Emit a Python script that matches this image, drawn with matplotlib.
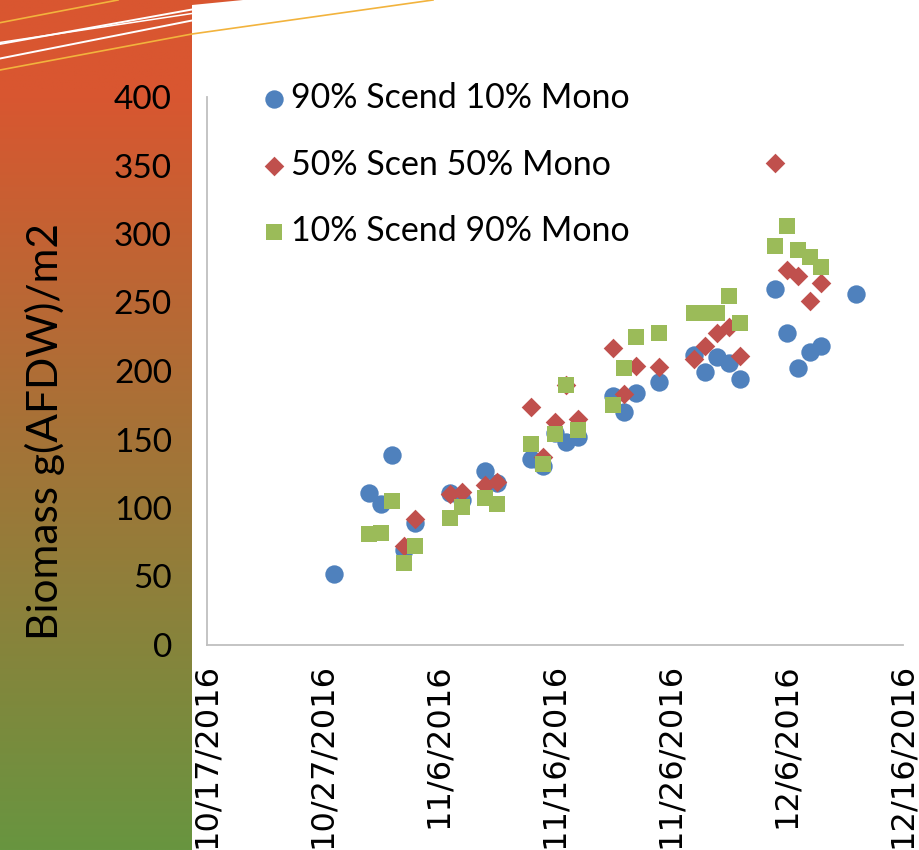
import matplotlib
matplotlib.use("Agg")
import matplotlib.pyplot as plt
import numpy as np
import pandas as pd

# ── Data ─────────────────────────────────────────────────────────────
blue_dates = ["10/28/2016", "10/31/2016", "11/1/2016", "11/2/2016", "11/3/2016",
              "11/4/2016", "11/7/2016", "11/8/2016", "11/10/2016", "11/11/2016",
              "11/14/2016", "11/15/2016", "11/16/2016", "11/17/2016", "11/18/2016",
              "11/21/2016", "11/22/2016", "11/23/2016", "11/25/2016", "11/28/2016",
              "11/29/2016", "11/30/2016", "12/1/2016", "12/2/2016", "12/5/2016",
              "12/6/2016", "12/7/2016", "12/8/2016", "12/9/2016", "12/12/2016"]
blue_vals = [52, 111, 103, 139, 69, 89, 111, 106, 127, 118,
             136, 131, 155, 148, 152, 182, 170, 184, 192, 212,
             199, 210, 206, 194, 260, 228, 202, 214, 218, 256]

red_dates = ["11/3/2016", "11/4/2016", "11/7/2016", "11/8/2016", "11/10/2016",
             "11/11/2016", "11/14/2016", "11/15/2016", "11/16/2016", "11/17/2016",
             "11/18/2016", "11/21/2016", "11/22/2016", "11/23/2016", "11/25/2016",
             "11/28/2016", "11/29/2016", "11/30/2016", "12/1/2016", "12/2/2016",
             "12/5/2016", "12/6/2016", "12/7/2016", "12/8/2016", "12/9/2016"]
red_vals = [72, 92, 110, 112, 117, 119, 174, 137, 163, 190,
            165, 217, 183, 204, 203, 209, 218, 228, 232, 211,
            352, 274, 269, 251, 264]

green_dates = ["10/31/2016", "11/1/2016", "11/2/2016", "11/3/2016", "11/4/2016",
               "11/7/2016", "11/8/2016", "11/10/2016", "11/11/2016", "11/14/2016",
               "11/15/2016", "11/16/2016", "11/17/2016", "11/18/2016", "11/21/2016",
               "11/22/2016", "11/23/2016", "11/25/2016", "11/28/2016", "11/29/2016",
               "11/30/2016", "12/1/2016", "12/2/2016", "12/5/2016", "12/6/2016",
               "12/7/2016", "12/8/2016", "12/9/2016"]
green_vals = [81, 82, 105, 60, 72, 93, 101, 107, 103, 147,
              132, 154, 190, 157, 175, 202, 225, 228, 242, 242,
              242, 255, 235, 291, 306, 288, 283, 276]

series_labels = ["90% Scend 10% Mono", "50% Scen 50% Mono", "10% Scend 90% Mono"]
x_tick_labels = ["10/17/2016", "10/27/2016", "11/6/2016", "11/16/2016",
                 "11/26/2016", "12/6/2016", "12/16/2016"]
y_ticks = [0, 50, 100, 150, 200, 250, 300, 350, 400]

# ── Style ────────────────────────────────────────────────────────────
BLUE = "#4F81BD"
RED = "#C0504D"
GREEN = "#9BBB59"
GOLD = "#F2B33D"
TOP_COL = np.array([217, 86, 48]) / 255
BOT_COL = np.array([104, 149, 64]) / 255
CAL = ["Lato", "DejaVu Sans"]

W, H = 920, 850
fig = plt.figure(figsize=(W / 100, H / 100), dpi=100, facecolor="white")

# gradient strip on the left
strip = fig.add_axes([0, 0, 192 / W, 1], zorder=0)
yy = np.linspace(0, H, 400)
t = np.clip((yy - 90) / (H - 90), 0, 1)[:, None]
grad = TOP_COL[None, :] * (1 - t) + BOT_COL[None, :] * t
strip.imshow(grad[:, None, :], aspect="auto", extent=[0, 1, 0, 1], origin="upper")
strip.axis("off")

# decorative lines at the top
deco = fig.add_axes([0, 0, 1, 1], zorder=1)
deco.set_xlim(0, W)
deco.set_ylim(H, 0)
deco.patch.set_alpha(0)
deco.axis("off")
deco.fill([192, 243, 192], [0, 0, 5], color=TOP_COL, lw=0)
deco.plot([0, 118], [22.7, 0], color=GOLD, lw=1.2)
deco.plot([0, 192], [44, 9.5], color="white", lw=1.4)
deco.plot([0, 192], [42.5, 13.5], color="white", lw=1.1)
deco.plot([0, 192], [58.5, 20.5], color="white", lw=1.4)
deco.plot([0, 192, 433], [70, 34, 0], color=GOLD, lw=1.2)

# main scatter
ax = fig.add_axes([206.6 / W, 205 / H, 696 / W, 548 / H], zorder=2)
ax.patch.set_alpha(0)

to_dt = lambda d: pd.to_datetime(d, format="%m/%d/%Y")
ax.scatter(to_dt(blue_dates), blue_vals, s=175, marker="o", color=BLUE,
           lw=0, label=series_labels[0], zorder=3)
ax.scatter(to_dt(red_dates), red_vals, s=100, marker="D", color=RED,
           lw=0, label=series_labels[1], zorder=4)
ax.scatter(to_dt(green_dates), green_vals, s=120, marker="s", color=GREEN,
           lw=0, label=series_labels[2], zorder=5)

ax.set_ylim(0, 400)
ax.set_yticks(y_ticks)
ax.set_yticklabels([str(v) for v in y_ticks], family=CAL, fontsize=24)

xt = to_dt(x_tick_labels)
ax.set_xlim(xt[0], xt[-1])
ax.set_xticks(xt)
ax.set_xticklabels(x_tick_labels, rotation=90, family="DejaVu Sans", fontsize=23)

ax.tick_params(axis="y", length=0, pad=25)
ax.tick_params(axis="x", length=0, pad=13)
for side in ["top", "right"]:
    ax.spines[side].set_visible(False)
for side in ["left", "bottom"]:
    ax.spines[side].set_color("#BFBFBF")
    ax.spines[side].set_linewidth(1.3)

ax.legend(loc="upper left", bbox_to_anchor=(260 / W, 1 - 82 / H),
          bbox_transform=fig.transFigure, frameon=False,
          prop={"family": CAL, "size": 24.5}, handlelength=0.8,
          handletextpad=0.12, labelspacing=1.02, borderpad=0, borderaxespad=0)

fig.text(45 / W, 1 - 431 / H, "Biomass g(AFDW)/m2", rotation=90,
         ha="center", va="center", family=CAL, fontsize=30.5, color="black")

fig.savefig("out.png", dpi=100, facecolor="white")
